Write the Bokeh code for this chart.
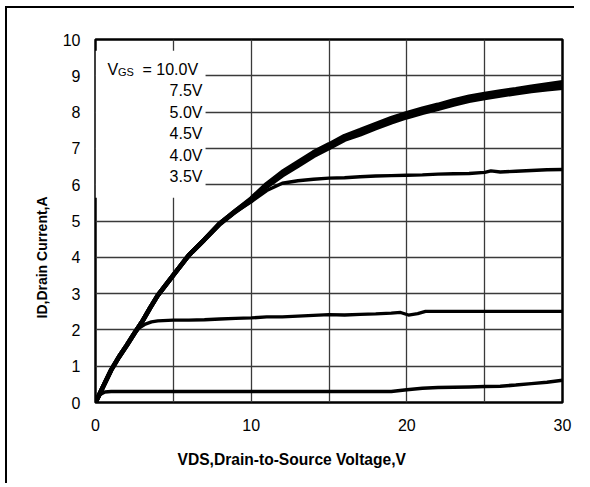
from bokeh.plotting import figure
from bokeh.models import Range1d, FixedTicker, Label, Title, InlineStyleSheet
from bokeh.core.properties import value
from bokeh.embed import file_html
from bokeh.resources import INLINE

# ---- data ----
vgs_labels = ["10.0V", "7.5V", "5.0V", "4.5V", "4.0V", "3.5V"]

vds_main = [0, 0.5, 1, 1.5, 2, 2.5, 3, 3.5, 4, 5, 6, 7, 8, 9, 10, 11, 12, 13, 14, 15,
            16, 17, 18, 19, 20, 21, 22, 23, 24, 25, 26, 27, 28, 29, 30]
id_10v0 = [0, 0.45, 0.89, 1.25, 1.57, 1.91, 2.23, 2.60, 2.95, 3.51, 4.06, 4.49, 4.94,
           5.28, 5.62, 6.02, 6.35, 6.62, 6.89, 7.11, 7.34, 7.50, 7.67, 7.83, 7.97,
           8.09, 8.20, 8.32, 8.42, 8.50, 8.57, 8.63, 8.70, 8.76, 8.82]
id_7v5 = [0, 0.45, 0.89, 1.25, 1.57, 1.91, 2.23, 2.60, 2.95, 3.51, 4.06, 4.49, 4.94,
          5.28, 5.60, 5.99, 6.31, 6.58, 6.85, 7.07, 7.30, 7.45, 7.62, 7.78, 7.92,
          8.04, 8.15, 8.27, 8.37, 8.45, 8.52, 8.58, 8.65, 8.71, 8.76]
id_5v0 = [0, 0.45, 0.89, 1.25, 1.57, 1.91, 2.23, 2.60, 2.95, 3.51, 4.06, 4.49, 4.92,
          5.26, 5.57, 5.95, 6.26, 6.52, 6.79, 7.01, 7.24, 7.39, 7.56, 7.72, 7.86,
          7.98, 8.09, 8.21, 8.31, 8.39, 8.46, 8.52, 8.58, 8.63, 8.67]

vds_4v5 = [0, 0.5, 1, 1.5, 2, 2.5, 3, 3.5, 4, 5, 6, 7, 8, 9, 10, 11, 12, 13, 14, 15,
           16, 17, 18, 19, 20, 21, 22, 23, 24, 25, 25.4, 26, 27, 28, 29, 30]
id_4v5 = [0, 0.45, 0.89, 1.25, 1.57, 1.91, 2.23, 2.60, 2.95, 3.51, 4.06, 4.49, 4.92,
          5.25, 5.53, 5.84, 6.04, 6.11, 6.15, 6.18, 6.19, 6.22, 6.24, 6.25, 6.26,
          6.27, 6.29, 6.30, 6.31, 6.34, 6.38, 6.35, 6.37, 6.39, 6.41, 6.42]

vds_4v0 = [0, 0.5, 1, 1.5, 2, 2.5, 2.8, 3.2, 3.6, 4, 5, 6, 7, 8, 9, 10, 11, 12,
           13, 14, 15, 16, 17, 18, 19, 19.6, 20.1, 20.7, 21.2, 22, 24, 26, 28, 30]
id_4v0 = [0, 0.45, 0.89, 1.25, 1.57, 1.91, 2.05, 2.16, 2.22, 2.25, 2.27, 2.27,
          2.28, 2.30, 2.32, 2.33, 2.36, 2.36, 2.38, 2.40, 2.42, 2.41, 2.43, 2.44,
          2.46, 2.48, 2.41, 2.45, 2.51, 2.51, 2.51, 2.51, 2.51, 2.51]

vds_3v5 = [0, 0.3, 0.6, 1, 5, 10, 15, 19, 20, 21, 22, 23, 24, 25, 26, 27, 28, 29, 30]
id_3v5 = [0, 0.22, 0.29, 0.30, 0.30, 0.30, 0.30, 0.30, 0.35, 0.39, 0.41, 0.42,
          0.43, 0.44, 0.45, 0.48, 0.52, 0.56, 0.61]

x_ticks = [0, 10, 20, 30]
y_ticks = [0, 1, 2, 3, 4, 5, 6, 7, 8, 9, 10]
x_grid = [5, 10, 15, 20, 25]
y_grid = [1, 2, 3, 4, 5, 6, 7, 8, 9]

FONT = "Liberation Sans"

border_css = InlineStyleSheet(css="""
:host {
  overflow: hidden;
  background-color: white;
  background-image: linear-gradient(black, black), linear-gradient(black, black);
  background-size: 2px 100%, 100% 2px;
  background-position: 5px 6px, 5px 6px;
  background-repeat: no-repeat;
}
""")

p = figure(width=574, height=483, x_range=Range1d(0, 30), y_range=Range1d(0, 10),
           output_backend="svg", toolbar_location=None,
           min_border_left=95, min_border_right=12, min_border_top=39, min_border_bottom=81)
p.stylesheets = [border_css]
p.background_fill_color = "white"
p.border_fill_color = None
p.outline_line_color = "black"
p.outline_line_width = 2.5
p.outline_line_alpha = 1.0

p.xaxis.ticker = FixedTicker(ticks=x_ticks)
p.yaxis.ticker = FixedTicker(ticks=y_ticks)
p.xgrid.ticker = FixedTicker(ticks=x_grid)
p.ygrid.ticker = FixedTicker(ticks=y_grid)
for g in (p.xgrid, p.ygrid):
    g.grid_line_color = "#3a3a3a"
    g.grid_line_width = 1.3
    g.grid_line_alpha = 1.0

for ax in (p.xaxis, p.yaxis):
    ax.axis_line_color = None
    ax.major_tick_line_color = None
    ax.minor_tick_line_color = None
    ax.major_tick_out = 0
    ax.major_tick_in = 0
    ax.minor_tick_out = 0
    ax.major_label_text_font = FONT
    ax.major_label_text_font_size = "16px"
    ax.major_label_text_color = "black"
p.yaxis.major_label_standoff = 15
p.xaxis.major_label_standoff = 16

# axis titles (as side-panel titles so they can be offset like the reference)
p.add_layout(Title(text="VDS,Drain-to-Source Voltage,V", align="left", offset=82,
                   standoff=31, text_font=FONT, text_font_size="15.6px",
                   text_font_style="bold", text_color="black"), "below")
p.add_layout(Title(text="ID,Drain Current,A", align="left", offset=84,
                   standoff=20, text_font=FONT, text_font_size="14px",
                   text_font_style="bold", text_color="black"), "left")

# white box behind the legend text
p.quad(left=[0], right=[7.07], bottom=[5.64], top=[9.69], fill_color="white",
       line_color=None)

# curves
p.line(vds_main, id_5v0, line_width=4.6, color="black")
p.line(vds_main, id_7v5, line_width=4.6, color="black")
p.line(vds_main, id_10v0, line_width=4.6, color="black")
p.line(vds_4v5, id_4v5, line_width=3.4, color="black")
p.line(vds_4v0, id_4v0, line_width=3.3, color="black")
p.line(vds_3v5, id_3v5, line_width=3.5, color="black")

# legend text (VGS labels)
px_x = 30 / 467.0
px_y = 10 / 363.0
right_x = (202 - 95) * px_x
base0 = (402 - 69) * px_y
step = 21.4 * px_y
lab_y = [base0 - i * step for i in range(len(vgs_labels))]
lab_txt = [" = " + vgs_labels[0]] + vgs_labels[1:]
p.text(x=[right_x] * len(vgs_labels), y=lab_y, text=lab_txt, text_align="right",
       text_baseline="alphabetic", text_font=value(FONT), text_font_size="16px",
       text_color="black")
p.add_layout(Label(x=(107 - 95) * px_x, y=base0, text="V", text_align="left",
                   text_baseline="alphabetic", text_font=FONT, text_font_size="16px",
                   text_color="black"))
p.add_layout(Label(x=(117.5 - 95) * px_x, y=base0 - 2 * px_y, text="GS", text_align="left",
                   text_baseline="alphabetic", text_font=FONT, text_font_size="11px",
                   text_color="black"))

open("out.html", "w").write(file_html(p, INLINE))
